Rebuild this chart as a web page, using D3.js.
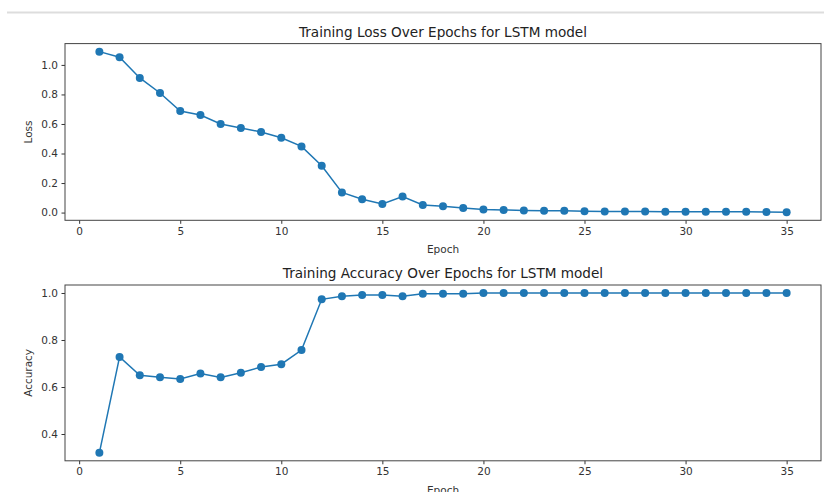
<!DOCTYPE html>
<html>
<head>
<meta charset="utf-8">
<script src="https://cdn.jsdelivr.net/npm/d3@7"></script>
<style>
  body { margin: 0; background: #fff; }
  svg { display: block; font-family: "DejaVu Sans", sans-serif; }
  .tick text { fill: #333; }
</style>
</head>
<body>
<script>
// epochs 1..35
const epochs = [1, 2, 3, 4, 5, 6, 7, 8, 9, 10, 11, 12, 13, 14, 15, 16, 17, 18,
  19, 20, 21, 22, 23, 24, 25, 26, 27, 28, 29, 30, 31, 32, 33, 34, 35];

const loss = [1.09, 1.052, 0.912, 0.81, 0.688, 0.661, 0.6, 0.573, 0.546, 0.507,
  0.448, 0.317, 0.136, 0.09, 0.058, 0.109, 0.052, 0.043, 0.031, 0.02,
  0.018, 0.014, 0.013, 0.012, 0.009, 0.008, 0.007, 0.007, 0.006, 0.006,
  0.005, 0.005, 0.005, 0.004, 0.002];

const accuracy = [0.32, 0.728, 0.65, 0.641, 0.634, 0.657, 0.641, 0.661, 0.685, 0.697,
  0.757, 0.973, 0.986, 0.991, 0.991, 0.986, 0.997, 0.997, 0.997, 1.0,
  1.0, 1.0, 1.0, 1.0, 1.0, 1.0, 1.0, 1.0, 1.0, 1.0,
  1.0, 1.0, 1.0, 1.0, 1.0];

const xTicks = [0, 5, 10, 15, 20, 25, 30, 35];
const lossTicks = [0.0, 0.2, 0.4, 0.6, 0.8, 1.0];
const accTicks = [0.4, 0.6, 0.8, 1.0];

const w = 824;
const h = 492;
const color = "#1f77b4";

const svg = d3.select("body").append("svg").attr("width", w).attr("height", h);

// faint notebook border at the top
svg.append("line")
  .attr("x1", 7).attr("x2", w).attr("y1", 12.5).attr("y2", 12.5)
  .attr("stroke", "#ddd").attr("stroke-width", 2);

// matplotlib style: 5% margin on each side of the data range
function padded(lo, hi) {
  const m = (hi - lo) * 0.05;
  return [lo - m, hi + m];
}

function panel(cfg) {
  const left = 65, right = 821;
  const g = svg.append("g");

  const xScale = d3.scaleLinear()
    .domain(padded(d3.min(epochs), d3.max(epochs)))
    .range([left, right]);

  const yScale = d3.scaleLinear()
    .domain(padded(d3.min(cfg.values), d3.max(cfg.values)))
    .range([cfg.bottom, cfg.top]);

  const xAxis = d3.axisBottom(xScale).tickValues(xTicks).tickSize(3.5).tickPadding(3.5)
    .tickFormat(d3.format("d"));
  const yAxis = d3.axisLeft(yScale).tickValues(cfg.ticks).tickSize(3.5).tickPadding(3.5)
    .tickFormat(d3.format(".1f"));

  const gx = g.append("g")
    .attr("transform", "translate(0," + cfg.bottom + ")")
    .call(xAxis);
  const gy = g.append("g")
    .attr("transform", "translate(" + left + ",0)")
    .call(yAxis);

  [gx, gy].forEach((a) => {
    a.select(".domain").remove();
    a.selectAll(".tick line").attr("stroke", "#333");
    a.selectAll(".tick text").attr("font-size", 10.5).attr("font-family", "DejaVu Sans");
  });

  // frame
  g.append("rect")
    .attr("x", left).attr("y", cfg.top)
    .attr("width", right - left).attr("height", cfg.bottom - cfg.top)
    .attr("fill", "none").attr("stroke", "#444").attr("stroke-width", 1);

  const pts = epochs.map((e, i) => [e, cfg.values[i]]);

  g.append("path")
    .datum(pts)
    .attr("fill", "none")
    .attr("stroke", color)
    .attr("stroke-width", 1.5)
    .attr("d", d3.line().x((d) => xScale(d[0])).y((d) => yScale(d[1])));

  g.selectAll("circle")
    .data(pts)
    .enter()
    .append("circle")
    .attr("cx", (d) => xScale(d[0]))
    .attr("cy", (d) => yScale(d[1]))
    .attr("r", 4)
    .attr("fill", color);

  g.append("text")
    .attr("x", (left + right) / 2)
    .attr("y", cfg.top - 7)
    .attr("text-anchor", "middle")
    .attr("font-size", 13.6)
    .attr("fill", "#222")
    .text(cfg.title);

  g.append("text")
    .attr("x", (left + right) / 2)
    .attr("y", cfg.bottom + 33)
    .attr("text-anchor", "middle")
    .attr("font-size", 10.5)
    .attr("fill", "#333")
    .text("Epoch");

  g.append("text")
    .attr("transform", "translate(32," + (cfg.top + cfg.bottom) / 2 + ") rotate(-90)")
    .attr("text-anchor", "middle")
    .attr("font-size", 10.5)
    .attr("fill", "#333")
    .text(cfg.ylabel);
}

panel({
  values: loss, ticks: lossTicks, top: 43.6, bottom: 220.3,
  title: "Training Loss Over Epochs for LSTM model", ylabel: "Loss"
});

panel({
  values: accuracy, ticks: accTicks, top: 285, bottom: 460.8,
  title: "Training Accuracy Over Epochs for LSTM model", ylabel: "Accuracy"
});
</script>
</body>
</html>
